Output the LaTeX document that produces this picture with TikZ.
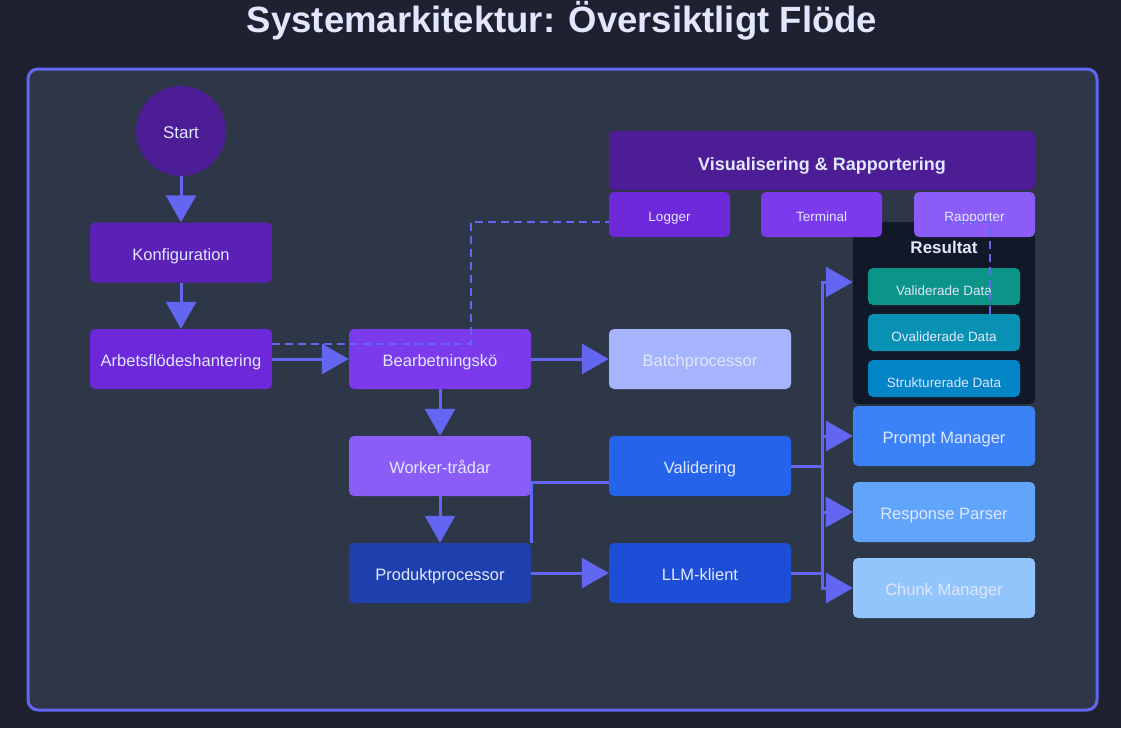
\documentclass[tikz,border=0pt]{standalone}
\usepackage{fontspec}
\setmainfont{Liberation Sans}
\usepackage{tikz}
\usetikzlibrary{arrows.meta,calc,positioning}
\definecolor{archbg}{HTML}{1F2030}
\definecolor{archpanel}{HTML}{2D3748}
\definecolor{archedge}{HTML}{6366F1}
\definecolor{archtext}{HTML}{E0E7FF}
\definecolor{violetA}{HTML}{4C1D95}
\definecolor{violetB}{HTML}{5B21B6}
\definecolor{violetC}{HTML}{6D28D9}
\definecolor{violetD}{HTML}{7C3AED}
\definecolor{violetE}{HTML}{8B5CF6}
\definecolor{indigoL}{HTML}{A5B4FC}
\definecolor{blueA}{HTML}{1E40AF}
\definecolor{blueB}{HTML}{1D4ED8}
\definecolor{blueC}{HTML}{2563EB}
\definecolor{blueD}{HTML}{3B82F6}
\definecolor{blueE}{HTML}{60A5FA}
\definecolor{blueF}{HTML}{93C5FD}
\definecolor{resultbg}{HTML}{111827}
\definecolor{tealA}{HTML}{0D9488}
\definecolor{cyanA}{HTML}{0891B2}
\definecolor{skyA}{HTML}{0284C7}

\begin{document}
\begin{tikzpicture}[
  x=1pt, y=-1pt,
  box/.style={rounded corners=5pt, inner sep=0pt, minimum width=182pt, minimum height=60pt,
              text height=15.5pt, text depth=0pt,
              text=archtext, font=\fontsize{16.5}{20}\selectfont},
  tab/.style={box, minimum width=121pt, minimum height=45pt, text height=14pt,
              font=\fontsize{13.5}{16}\selectfont},
  chip/.style={box, minimum width=152pt, minimum height=37pt, text height=17.5pt,
               font=\fontsize{13.5}{16}\selectfont},
  flow/.style={-{Triangle[length=27pt,width=30pt]}, line width=3pt, draw=archedge},
  link/.style={line width=3pt, draw=archedge},
  dashlink/.style={line width=2pt, draw=archedge, dash pattern=on 8pt off 5pt},
]
  % Canvas ------------------------------------------------------------------
  \fill[archbg] (0,0) rectangle (1121,728);
  \useasboundingbox (0,0) rectangle (1121,728);
  \node[anchor=base, text=archtext, font=\fontsize{36.5}{40}\selectfont\bfseries] (title)
    at (562,32) {Systemarkitektur: Översiktligt Flöde};
  \draw[archedge, line width=3pt, fill=archpanel, rounded corners=10pt] (28,69) rectangle (1097,710);

  % Left column -------------------------------------------------------------
  \node[circle, fill=violetA, minimum size=90pt, inner sep=0pt, text=archtext,
        text height=14.5pt, text depth=0pt,
        font=\fontsize{17}{20}\selectfont] (start) at (181,131) {Start};
  \node[box, fill=violetB] (konfig) at (181,252.5) {Konfiguration};
  \node[box, fill=violetC] (arbets) at (181,359) {Arbetsflödeshantering};

  % Processing --------------------------------------------------------------
  \node[box, fill=violetD] (queue) at (440,359) {Bearbetningskö};
  \node[box, fill=indigoL] (batch) at (700,359) {Batchprocessor};
  \node[box, fill=violetE] (worker) at (440,466) {Worker-trådar};
  \node[box, fill=blueA] (produkt) at (440,573) {Produktprocessor};
  \node[box, fill=blueC] (valid) at (700,466) {Validering};
  \node[box, fill=blueB] (llm) at (700,573) {LLM-klient};

  % Results -----------------------------------------------------------------
  \node[box, fill=resultbg, minimum width=182pt, minimum height=182pt] (resultat) at (944,313) {};
  \node[text=archtext, font=\fontsize{17}{20}\selectfont\bfseries] (resultlabel) at (944,247) {Resultat};
  \node[chip, fill=tealA] (valdata) at (944,286.5) {Validerade Data};
  \node[chip, fill=cyanA] (ovaldata) at (944,332.5) {Ovaliderade Data};
  \node[chip, fill=skyA] (struktdata) at (944,378.5) {Strukturerade Data};

  % Visualisation -----------------------------------------------------------
  \node[box, fill=violetA, minimum width=426pt, minimum height=59pt, text height=19pt,
        font=\fontsize{18}{22}\selectfont\bfseries] (vis) at (822,160.5) {Visualisering \& Rapportering};
  \node[tab, fill=violetC] (logger) at (669.5,214.5) {Logger};
  \node[tab, fill=violetD] (terminal) at (821.5,214.5) {Terminal};
  \node[tab, fill=violetE] (rapporter) at (974.5,214.5) {Rapporter};

  % Managers ----------------------------------------------------------------
  \node[box, fill=blueD] (prompt) at (944,436) {Prompt Manager};
  \node[box, fill=blueE] (response) at (944,512) {Response Parser};
  \node[box, fill=blueF] (chunk) at (944,588) {Chunk Manager};

  % Connectors --------------------------------------------------------------
  \coordinate (bus) at (822,0);
  \coordinate (dashbend) at (471,0);
  \coordinate (rapin) at (945,222);
  \draw[flow] (start) -- (konfig);
  \draw[flow] (konfig) -- (arbets);
  \draw[flow] (arbets) -- (queue);
  \draw[flow] (queue) -- (batch);
  \draw[flow] (queue) -- (worker);
  \draw[flow] (worker) -- (produkt);
  \draw[flow] (produkt) -- (llm);
  \draw[link] (produkt.north east) |- ([yshift=-16pt]valid.west);
  \draw[flow] (valid.east) -- (valid.east -| bus) |- ([yshift=31pt]resultat.west);
  \draw[flow] (valid.east) -- (valid.east -| bus) |- (prompt.west);
  \draw[flow] (valid.east) -- (valid.east -| bus) |- (response.west);
  \draw[flow] (llm.east) -- (llm.east -| bus) |- (response.west);
  \draw[flow] (llm.east) -- (llm.east -| bus) |- (chunk.west);
  \draw[dashlink] ([yshift=15pt]arbets.east) -- ([yshift=15pt]arbets.east -| dashbend)
    |- ([yshift=-7.5pt]logger.west);
  \draw[dashlink] ([xshift=46pt]ovaldata.north) |- (rapin);
\end{tikzpicture}
\end{document}
